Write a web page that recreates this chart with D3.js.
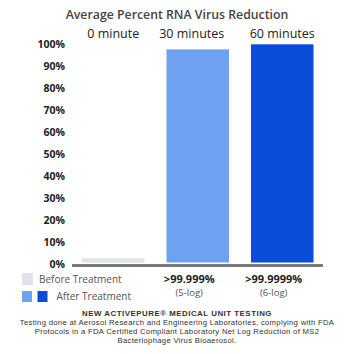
<!DOCTYPE html>
<html><head><meta charset="utf-8">
<script src="https://cdn.jsdelivr.net/npm/d3@7"></script>
<style>html,body{margin:0;padding:0;background:#fff;}svg{display:block;font-family:"Open Sans",sans-serif;}</style>
</head><body>
<script>
const categories = ["0 minute", "30 minutes", "60 minutes"];
const values = [2.6, 97.7, 100];
const barColors = ["#dfe3ea", "#6ea2f1", "#0a4dd8"];
const yTicks = [0, 10, 20, 30, 40, 50, 60, 70, 80, 90, 100];
const resultLabels = ["", ">99.999%", ">99.9999%"];
const logLabels = ["", "(5-log)", "(6-log)"];
const footerLines = [
  "Testing done at Aerosol Research and Engineering Laboratories, complying with FDA",
  "Protocols in a FDA Certified Compliant Laboratory Net Log Reduction of MS2",
  "Bacteriophage Virus Bioaerosol."
];

const W = 354, H = 354;
const svg = d3.select("body").append("svg").attr("width", W).attr("height", H);

const x = d3.scaleBand().domain(categories).range([82, 313.5]).paddingInner(0.26).paddingOuter(0);
const y = d3.scaleLinear().domain([0, 100]).range([264, 44.3]);

// title
svg.append("text").attr("x", 177).attr("y", 19).attr("text-anchor", "middle")
  .attr("font-size", 12.3).attr("font-weight", 600).attr("fill", "#444")
  .text("Average Percent RNA Virus Reduction");

// bars
svg.selectAll("rect.bar").data(categories).join("rect").attr("class", "bar")
  .attr("x", d => x(d)).attr("width", x.bandwidth())
  .attr("y", (d, i) => y(values[i])).attr("height", (d, i) => y(0) - y(values[i]) - 1.5)
  .attr("fill", (d, i) => barColors[i]);

// category labels
svg.selectAll("text.cat").data(categories).join("text").attr("class", "cat")
  .attr("x", (d, i) => x(d) + x.bandwidth() / 2 + (i === 1 ? -6 : 0)).attr("y", 38)
  .attr("text-anchor", "middle").attr("font-size", 12.5).attr("fill", "#222")
  .text(d => d);

// y axis labels
const yAxis = d3.axisLeft(y).tickValues(yTicks).tickFormat(d => d + "%").tickSize(0).tickPadding(0);
const ya = svg.append("g").attr("transform", "translate(65,0)").call(yAxis);
ya.select(".domain").remove();
ya.selectAll("text").attr("font-family", "'Open Sans',sans-serif").attr("font-size", 10.5)
  .attr("font-weight", 700).attr("fill", "#222");

// baseline
svg.append("line").attr("x1", 72).attr("x2", 323).attr("y1", 265.5).attr("y2", 265.5)
  .attr("stroke", "#7a7a7a").attr("stroke-width", 3);

// result labels
svg.selectAll("text.res").data(categories).join("text").attr("class", "res")
  .attr("x", d => x(d) + x.bandwidth() / 2 - 8.5).attr("y", 283)
  .attr("text-anchor", "middle").attr("font-size", 11).attr("font-weight", 700).attr("fill", "#222")
  .text((d, i) => resultLabels[i]);
svg.selectAll("text.log").data(categories).join("text").attr("class", "log")
  .attr("x", d => x(d) + x.bandwidth() / 2 - 8.5).attr("y", 296)
  .attr("text-anchor", "middle").attr("font-size", 9.5).attr("fill", "#555")
  .text((d, i) => logLabels[i]);

// legend
svg.append("rect").attr("x", 22).attr("y", 273).attr("width", 11).attr("height", 12).attr("fill", barColors[0]);
svg.append("text").attr("x", 39).attr("y", 283).attr("font-size", 10).attr("fill", "#555").text("Before Treatment");
svg.append("rect").attr("x", 22).attr("y", 291).attr("width", 10).attr("height", 11).attr("fill", barColors[1]);
svg.append("rect").attr("x", 37.5).attr("y", 291).attr("width", 10).attr("height", 11).attr("fill", barColors[2]);
svg.append("text").attr("x", 56.5).attr("y", 300).attr("font-size", 10).attr("fill", "#555").text("After Treatment");

// footer
const footFont = "'Liberation Sans', Arial, sans-serif";
svg.append("text").attr("x", 177).attr("y", 315.5).attr("text-anchor", "middle")
  .attr("font-family", footFont).attr("letter-spacing", 0.5)
  .attr("font-size", 7.9).attr("font-weight", 700).attr("fill", "#333")
  .text("NEW ACTIVEPURE® MEDICAL UNIT TESTING");
svg.selectAll("text.foot").data(footerLines).join("text").attr("class", "foot")
  .attr("x", 177).attr("y", (d, i) => 324.5 + i * 9.2).attr("text-anchor", "middle")
  .attr("font-family", footFont).attr("letter-spacing", 0.3)
  .attr("font-size", 7.7).attr("fill", "#333").text(d => d);
</script>
</body></html>
